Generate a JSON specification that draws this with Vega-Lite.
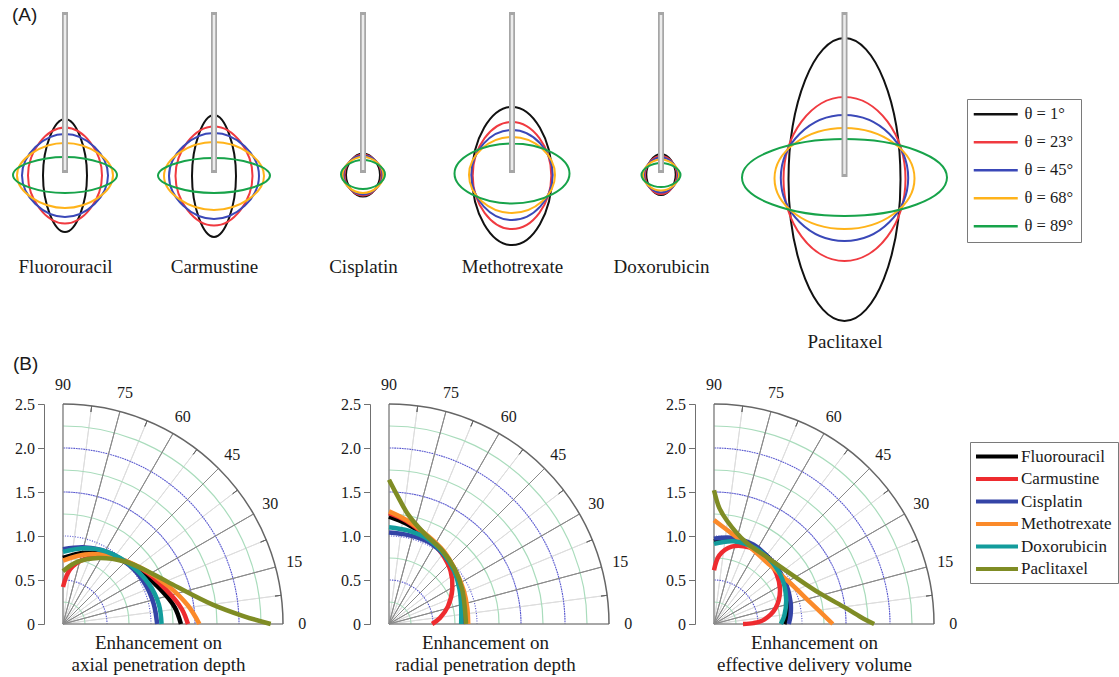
{
"$schema": "https://vega.github.io/schema/vega-lite/v6.json",
"background": "white",
"padding": 5,
"spacing": 3,
"resolve": {"scale": {"color": "independent"}},
"config": {
  "view": {"stroke": null},
  "font": "Liberation Serif",
  "axis": {"titleFont": "Liberation Serif", "titleFontWeight": "normal", "titleFontSize": 19, "titleColor": "#1a1a1a", "labelFont": "Liberation Serif", "labelFontSize": 16, "labelColor": "#1a1a1a"},
  "legend": {"labelFont": "Liberation Serif", "labelFontSize": 17, "labelColor": "#1a1a1a"},
  "title": {"font": "Liberation Sans", "fontSize": 19, "fontWeight": "normal", "color": "#1a1a1a"}
},
"datasets": {
  "needleA": [{"y0": 0.3, "y1": 15.8}],
  "needleP": [{"y0": 0.3, "y1": 16.2}],
  "ellFlu": [
    {"theta": "θ = 1°", "i": 0, "x": 2.2, "y": -0.25}, {"theta": "θ = 1°", "i": 1, "x": 0, "y": 5.4}, {"theta": "θ = 1°", "i": 2, "x": -2.2, "y": -0.25}, {"theta": "θ = 1°", "i": 3, "x": 0, "y": -5.9},
    {"theta": "θ = 23°", "i": 0, "x": 3.7, "y": -0.25}, {"theta": "θ = 23°", "i": 1, "x": 0, "y": 4.55}, {"theta": "θ = 23°", "i": 2, "x": -3.7, "y": -0.25}, {"theta": "θ = 23°", "i": 3, "x": 0, "y": -5.05},
    {"theta": "θ = 45°", "i": 0, "x": 4.3, "y": -0.25}, {"theta": "θ = 45°", "i": 1, "x": 0, "y": 3.9}, {"theta": "θ = 45°", "i": 2, "x": -4.3, "y": -0.25}, {"theta": "θ = 45°", "i": 3, "x": 0, "y": -4.4},
    {"theta": "θ = 68°", "i": 0, "x": 4.8, "y": -0.25}, {"theta": "θ = 68°", "i": 1, "x": 0, "y": 3.0}, {"theta": "θ = 68°", "i": 2, "x": -4.8, "y": -0.25}, {"theta": "θ = 68°", "i": 3, "x": 0, "y": -3.5},
    {"theta": "θ = 89°", "i": 0, "x": 5.2, "y": -0.2}, {"theta": "θ = 89°", "i": 1, "x": 0, "y": 1.6}, {"theta": "θ = 89°", "i": 2, "x": -5.2, "y": -0.2}, {"theta": "θ = 89°", "i": 3, "x": 0, "y": -2.0}
  ],
  "ellCar": [
    {"theta": "θ = 1°", "i": 0, "x": 2.2, "y": -0.3}, {"theta": "θ = 1°", "i": 1, "x": 0, "y": 5.8}, {"theta": "θ = 1°", "i": 2, "x": -2.2, "y": -0.3}, {"theta": "θ = 1°", "i": 3, "x": 0, "y": -6.4},
    {"theta": "θ = 23°", "i": 0, "x": 3.85, "y": -0.3}, {"theta": "θ = 23°", "i": 1, "x": 0, "y": 4.65}, {"theta": "θ = 23°", "i": 2, "x": -3.85, "y": -0.3}, {"theta": "θ = 23°", "i": 3, "x": 0, "y": -5.25},
    {"theta": "θ = 45°", "i": 0, "x": 4.5, "y": -0.3}, {"theta": "θ = 45°", "i": 1, "x": 0, "y": 4.0}, {"theta": "θ = 45°", "i": 2, "x": -4.5, "y": -0.3}, {"theta": "θ = 45°", "i": 3, "x": 0, "y": -4.6},
    {"theta": "θ = 68°", "i": 0, "x": 5.0, "y": -0.3}, {"theta": "θ = 68°", "i": 1, "x": 0, "y": 3.1}, {"theta": "θ = 68°", "i": 2, "x": -5.0, "y": -0.3}, {"theta": "θ = 68°", "i": 3, "x": 0, "y": -3.7},
    {"theta": "θ = 89°", "i": 0, "x": 5.6, "y": -0.25}, {"theta": "θ = 89°", "i": 1, "x": 0, "y": 1.5}, {"theta": "θ = 89°", "i": 2, "x": -5.6, "y": -0.25}, {"theta": "θ = 89°", "i": 3, "x": 0, "y": -2.0}
  ],
  "ellCis": [
    {"theta": "θ = 1°", "i": 0, "x": 1.7, "y": -0.2}, {"theta": "θ = 1°", "i": 1, "x": 0, "y": 1.95}, {"theta": "θ = 1°", "i": 2, "x": -1.7, "y": -0.2}, {"theta": "θ = 1°", "i": 3, "x": 0, "y": -2.35},
    {"theta": "θ = 23°", "i": 0, "x": 1.85, "y": -0.2}, {"theta": "θ = 23°", "i": 1, "x": 0, "y": 1.85}, {"theta": "θ = 23°", "i": 2, "x": -1.85, "y": -0.2}, {"theta": "θ = 23°", "i": 3, "x": 0, "y": -2.25},
    {"theta": "θ = 45°", "i": 0, "x": 1.95, "y": -0.2}, {"theta": "θ = 45°", "i": 1, "x": 0, "y": 1.75}, {"theta": "θ = 45°", "i": 2, "x": -1.95, "y": -0.2}, {"theta": "θ = 45°", "i": 3, "x": 0, "y": -2.15},
    {"theta": "θ = 68°", "i": 0, "x": 2.05, "y": -0.2}, {"theta": "θ = 68°", "i": 1, "x": 0, "y": 1.6}, {"theta": "θ = 68°", "i": 2, "x": -2.05, "y": -0.2}, {"theta": "θ = 68°", "i": 3, "x": 0, "y": -2.0},
    {"theta": "θ = 89°", "i": 0, "x": 2.2, "y": -0.15}, {"theta": "θ = 89°", "i": 1, "x": 0, "y": 1.3}, {"theta": "θ = 89°", "i": 2, "x": -2.2, "y": -0.15}, {"theta": "θ = 89°", "i": 3, "x": 0, "y": -1.6}
  ],
  "ellMet": [
    {"theta": "θ = 1°", "i": 0, "x": 4.0, "y": -0.3}, {"theta": "θ = 1°", "i": 1, "x": 0, "y": 6.6}, {"theta": "θ = 1°", "i": 2, "x": -4.0, "y": -0.3}, {"theta": "θ = 1°", "i": 3, "x": 0, "y": -7.2},
    {"theta": "θ = 23°", "i": 0, "x": 3.93, "y": -0.25}, {"theta": "θ = 23°", "i": 1, "x": 0, "y": 5.1}, {"theta": "θ = 23°", "i": 2, "x": -3.93, "y": -0.25}, {"theta": "θ = 23°", "i": 3, "x": 0, "y": -5.6},
    {"theta": "θ = 45°", "i": 0, "x": 4.07, "y": -0.2}, {"theta": "θ = 45°", "i": 1, "x": 0, "y": 4.3}, {"theta": "θ = 45°", "i": 2, "x": -4.07, "y": -0.2}, {"theta": "θ = 45°", "i": 3, "x": 0, "y": -4.7},
    {"theta": "θ = 68°", "i": 0, "x": 4.3, "y": -0.2}, {"theta": "θ = 68°", "i": 1, "x": 0, "y": 3.6}, {"theta": "θ = 68°", "i": 2, "x": -4.3, "y": -0.2}, {"theta": "θ = 68°", "i": 3, "x": 0, "y": -4.0},
    {"theta": "θ = 89°", "i": 0, "x": 5.75, "y": -0.05}, {"theta": "θ = 89°", "i": 1, "x": 0, "y": 2.95}, {"theta": "θ = 89°", "i": 2, "x": -5.75, "y": -0.05}, {"theta": "θ = 89°", "i": 3, "x": 0, "y": -3.05}
  ],
  "ellDox": [
    {"theta": "θ = 1°", "i": 0, "x": 1.47, "y": -0.15}, {"theta": "θ = 1°", "i": 1, "x": 0, "y": 1.9}, {"theta": "θ = 1°", "i": 2, "x": -1.47, "y": -0.15}, {"theta": "θ = 1°", "i": 3, "x": 0, "y": -2.2},
    {"theta": "θ = 23°", "i": 0, "x": 1.6, "y": -0.2}, {"theta": "θ = 23°", "i": 1, "x": 0, "y": 1.7}, {"theta": "θ = 23°", "i": 2, "x": -1.6, "y": -0.2}, {"theta": "θ = 23°", "i": 3, "x": 0, "y": -2.1},
    {"theta": "θ = 45°", "i": 0, "x": 1.7, "y": -0.2}, {"theta": "θ = 45°", "i": 1, "x": 0, "y": 1.55}, {"theta": "θ = 45°", "i": 2, "x": -1.7, "y": -0.2}, {"theta": "θ = 45°", "i": 3, "x": 0, "y": -1.95},
    {"theta": "θ = 68°", "i": 0, "x": 1.8, "y": -0.2}, {"theta": "θ = 68°", "i": 1, "x": 0, "y": 1.35}, {"theta": "θ = 68°", "i": 2, "x": -1.8, "y": -0.2}, {"theta": "θ = 68°", "i": 3, "x": 0, "y": -1.75},
    {"theta": "θ = 89°", "i": 0, "x": 1.95, "y": -0.2}, {"theta": "θ = 89°", "i": 1, "x": 0, "y": 1.0}, {"theta": "θ = 89°", "i": 2, "x": -1.95, "y": -0.2}, {"theta": "θ = 89°", "i": 3, "x": 0, "y": -1.4}
  ],
  "ellPac": [
    {"theta": "θ = 1°", "i": 0, "x": 5.6, "y": -0.25}, {"theta": "θ = 1°", "i": 1, "x": 0, "y": 13.9}, {"theta": "θ = 1°", "i": 2, "x": -5.6, "y": -0.25}, {"theta": "θ = 1°", "i": 3, "x": 0, "y": -14.4},
    {"theta": "θ = 23°", "i": 0, "x": 6.1, "y": -0.2}, {"theta": "θ = 23°", "i": 1, "x": 0, "y": 8.0}, {"theta": "θ = 23°", "i": 2, "x": -6.1, "y": -0.2}, {"theta": "θ = 23°", "i": 3, "x": 0, "y": -8.4},
    {"theta": "θ = 45°", "i": 0, "x": 6.37, "y": -0.1}, {"theta": "θ = 45°", "i": 1, "x": 0, "y": 6.2}, {"theta": "θ = 45°", "i": 2, "x": -6.37, "y": -0.1}, {"theta": "θ = 45°", "i": 3, "x": 0, "y": -6.4},
    {"theta": "θ = 68°", "i": 0, "x": 7.0, "y": -0.15}, {"theta": "θ = 68°", "i": 1, "x": 0, "y": 4.9}, {"theta": "θ = 68°", "i": 2, "x": -7.0, "y": -0.15}, {"theta": "θ = 68°", "i": 3, "x": 0, "y": -5.2},
    {"theta": "θ = 89°", "i": 0, "x": 10.25, "y": -0.05}, {"theta": "θ = 89°", "i": 1, "x": 0, "y": 3.8}, {"theta": "θ = 89°", "i": 2, "x": -10.25, "y": -0.05}, {"theta": "θ = 89°", "i": 3, "x": 0, "y": -3.9}
  ],
  "ringsMinor": [{"r": 0.25}, {"r": 0.75}, {"r": 1.25}, {"r": 1.75}, {"r": 2.25}],
  "ringsMajor": [{"r": 0.5}, {"r": 1.0}, {"r": 1.5}, {"r": 2.0}],
  "ringOuter": [{"r": 2.5}],
  "spokesMajor": [{"a": 0}, {"a": 15}, {"a": 30}, {"a": 45}, {"a": 60}, {"a": 75}, {"a": 90}],
  "spokesMinor": [{"a": 7.5}, {"a": 22.5}, {"a": 37.5}, {"a": 52.5}, {"a": 67.5}, {"a": 82.5}],
  "angles": [{"a": 0, "label": "0"}, {"a": 15, "label": "15"}, {"a": 30, "label": "30"}, {"a": 45, "label": "45"}, {"a": 60, "label": "60"}, {"a": 75, "label": "75"}, {"a": 90, "label": "90"}],
  "axial": [
    {"drug": "Fluorouracil", "i": 0, "x": 0, "y": 0.75}, {"drug": "Fluorouracil", "i": 1, "x": 0.25, "y": 0.81}, {"drug": "Fluorouracil", "i": 2, "x": 0.55, "y": 0.77}, {"drug": "Fluorouracil", "i": 3, "x": 0.85, "y": 0.62}, {"drug": "Fluorouracil", "i": 4, "x": 1.1, "y": 0.4}, {"drug": "Fluorouracil", "i": 5, "x": 1.27, "y": 0.19}, {"drug": "Fluorouracil", "i": 6, "x": 1.34, "y": 0},
    {"drug": "Carmustine", "i": 0, "x": 0, "y": 0.42}, {"drug": "Carmustine", "i": 1, "x": 0.08, "y": 0.62}, {"drug": "Carmustine", "i": 2, "x": 0.25, "y": 0.74}, {"drug": "Carmustine", "i": 3, "x": 0.55, "y": 0.76}, {"drug": "Carmustine", "i": 4, "x": 0.9, "y": 0.62}, {"drug": "Carmustine", "i": 5, "x": 1.17, "y": 0.39}, {"drug": "Carmustine", "i": 6, "x": 1.35, "y": 0.17}, {"drug": "Carmustine", "i": 7, "x": 1.42, "y": 0},
    {"drug": "Cisplatin", "i": 0, "x": 0, "y": 0.85}, {"drug": "Cisplatin", "i": 1, "x": 0.25, "y": 0.87}, {"drug": "Cisplatin", "i": 2, "x": 0.5, "y": 0.82}, {"drug": "Cisplatin", "i": 3, "x": 0.75, "y": 0.67}, {"drug": "Cisplatin", "i": 4, "x": 0.93, "y": 0.46}, {"drug": "Cisplatin", "i": 5, "x": 1.03, "y": 0.23}, {"drug": "Cisplatin", "i": 6, "x": 1.07, "y": 0},
    {"drug": "Methotrexate", "i": 0, "x": 0, "y": 0.72}, {"drug": "Methotrexate", "i": 1, "x": 0.25, "y": 0.79}, {"drug": "Methotrexate", "i": 2, "x": 0.55, "y": 0.77}, {"drug": "Methotrexate", "i": 3, "x": 0.9, "y": 0.63}, {"drug": "Methotrexate", "i": 4, "x": 1.2, "y": 0.43}, {"drug": "Methotrexate", "i": 5, "x": 1.42, "y": 0.21}, {"drug": "Methotrexate", "i": 6, "x": 1.55, "y": 0},
    {"drug": "Doxorubicin", "i": 0, "x": 0, "y": 0.82}, {"drug": "Doxorubicin", "i": 1, "x": 0.25, "y": 0.86}, {"drug": "Doxorubicin", "i": 2, "x": 0.5, "y": 0.82}, {"drug": "Doxorubicin", "i": 3, "x": 0.78, "y": 0.66}, {"drug": "Doxorubicin", "i": 4, "x": 0.98, "y": 0.45}, {"drug": "Doxorubicin", "i": 5, "x": 1.09, "y": 0.22}, {"drug": "Doxorubicin", "i": 6, "x": 1.12, "y": 0},
    {"drug": "Paclitaxel", "i": 0, "x": 0, "y": 0.6}, {"drug": "Paclitaxel", "i": 1, "x": 0.15, "y": 0.7}, {"drug": "Paclitaxel", "i": 2, "x": 0.4, "y": 0.75}, {"drug": "Paclitaxel", "i": 3, "x": 0.7, "y": 0.71}, {"drug": "Paclitaxel", "i": 4, "x": 1.0, "y": 0.58}, {"drug": "Paclitaxel", "i": 5, "x": 1.3, "y": 0.42}, {"drug": "Paclitaxel", "i": 6, "x": 1.7, "y": 0.22}, {"drug": "Paclitaxel", "i": 7, "x": 2.05, "y": 0.09}, {"drug": "Paclitaxel", "i": 8, "x": 2.36, "y": 0}
  ],
  "radial": [
    {"drug": "Fluorouracil", "i": 0, "x": 0, "y": 1.22}, {"drug": "Fluorouracil", "i": 1, "x": 0.2, "y": 1.14}, {"drug": "Fluorouracil", "i": 2, "x": 0.42, "y": 1.0}, {"drug": "Fluorouracil", "i": 3, "x": 0.62, "y": 0.82}, {"drug": "Fluorouracil", "i": 4, "x": 0.75, "y": 0.6}, {"drug": "Fluorouracil", "i": 5, "x": 0.83, "y": 0.38}, {"drug": "Fluorouracil", "i": 6, "x": 0.87, "y": 0.18}, {"drug": "Fluorouracil", "i": 7, "x": 0.88, "y": 0},
    {"drug": "Carmustine", "i": 0, "x": 0, "y": 1.26}, {"drug": "Carmustine", "i": 1, "x": 0.2, "y": 1.17}, {"drug": "Carmustine", "i": 2, "x": 0.42, "y": 1.0}, {"drug": "Carmustine", "i": 3, "x": 0.6, "y": 0.8}, {"drug": "Carmustine", "i": 4, "x": 0.7, "y": 0.6}, {"drug": "Carmustine", "i": 5, "x": 0.72, "y": 0.4}, {"drug": "Carmustine", "i": 6, "x": 0.67, "y": 0.2}, {"drug": "Carmustine", "i": 7, "x": 0.58, "y": 0.07}, {"drug": "Carmustine", "i": 8, "x": 0.49, "y": 0},
    {"drug": "Cisplatin", "i": 0, "x": 0, "y": 1.04}, {"drug": "Cisplatin", "i": 1, "x": 0.22, "y": 1.01}, {"drug": "Cisplatin", "i": 2, "x": 0.45, "y": 0.93}, {"drug": "Cisplatin", "i": 3, "x": 0.62, "y": 0.79}, {"drug": "Cisplatin", "i": 4, "x": 0.75, "y": 0.6}, {"drug": "Cisplatin", "i": 5, "x": 0.82, "y": 0.4}, {"drug": "Cisplatin", "i": 6, "x": 0.845, "y": 0.2}, {"drug": "Cisplatin", "i": 7, "x": 0.85, "y": 0},
    {"drug": "Methotrexate", "i": 0, "x": 0, "y": 1.28}, {"drug": "Methotrexate", "i": 1, "x": 0.2, "y": 1.18}, {"drug": "Methotrexate", "i": 2, "x": 0.42, "y": 1.02}, {"drug": "Methotrexate", "i": 3, "x": 0.62, "y": 0.83}, {"drug": "Methotrexate", "i": 4, "x": 0.76, "y": 0.6}, {"drug": "Methotrexate", "i": 5, "x": 0.85, "y": 0.38}, {"drug": "Methotrexate", "i": 6, "x": 0.89, "y": 0.18}, {"drug": "Methotrexate", "i": 7, "x": 0.9, "y": 0},
    {"drug": "Doxorubicin", "i": 0, "x": 0, "y": 1.1}, {"drug": "Doxorubicin", "i": 1, "x": 0.22, "y": 1.06}, {"drug": "Doxorubicin", "i": 2, "x": 0.45, "y": 0.96}, {"drug": "Doxorubicin", "i": 3, "x": 0.62, "y": 0.8}, {"drug": "Doxorubicin", "i": 4, "x": 0.74, "y": 0.6}, {"drug": "Doxorubicin", "i": 5, "x": 0.8, "y": 0.4}, {"drug": "Doxorubicin", "i": 6, "x": 0.82, "y": 0.2}, {"drug": "Doxorubicin", "i": 7, "x": 0.82, "y": 0},
    {"drug": "Paclitaxel", "i": 0, "x": 0, "y": 1.64}, {"drug": "Paclitaxel", "i": 1, "x": 0.1, "y": 1.45}, {"drug": "Paclitaxel", "i": 2, "x": 0.22, "y": 1.24}, {"drug": "Paclitaxel", "i": 3, "x": 0.4, "y": 1.03}, {"drug": "Paclitaxel", "i": 4, "x": 0.6, "y": 0.84}, {"drug": "Paclitaxel", "i": 5, "x": 0.75, "y": 0.62}, {"drug": "Paclitaxel", "i": 6, "x": 0.83, "y": 0.4}, {"drug": "Paclitaxel", "i": 7, "x": 0.86, "y": 0.2}, {"drug": "Paclitaxel", "i": 8, "x": 0.875, "y": 0}
  ],
  "volume": [
    {"drug": "Fluorouracil", "i": 0, "x": 0, "y": 0.94}, {"drug": "Fluorouracil", "i": 1, "x": 0.21, "y": 0.96}, {"drug": "Fluorouracil", "i": 2, "x": 0.46, "y": 0.88}, {"drug": "Fluorouracil", "i": 3, "x": 0.66, "y": 0.71}, {"drug": "Fluorouracil", "i": 4, "x": 0.79, "y": 0.5}, {"drug": "Fluorouracil", "i": 5, "x": 0.84, "y": 0.27}, {"drug": "Fluorouracil", "i": 6, "x": 0.83, "y": 0.1}, {"drug": "Fluorouracil", "i": 7, "x": 0.8, "y": 0},
    {"drug": "Carmustine", "i": 0, "x": 0, "y": 0.61}, {"drug": "Carmustine", "i": 1, "x": 0.06, "y": 0.78}, {"drug": "Carmustine", "i": 2, "x": 0.2, "y": 0.88}, {"drug": "Carmustine", "i": 3, "x": 0.4, "y": 0.87}, {"drug": "Carmustine", "i": 4, "x": 0.58, "y": 0.76}, {"drug": "Carmustine", "i": 5, "x": 0.71, "y": 0.57}, {"drug": "Carmustine", "i": 6, "x": 0.75, "y": 0.38}, {"drug": "Carmustine", "i": 7, "x": 0.7, "y": 0.18}, {"drug": "Carmustine", "i": 8, "x": 0.57, "y": 0.05}, {"drug": "Carmustine", "i": 9, "x": 0.45, "y": 0.01}, {"drug": "Carmustine", "i": 10, "x": 0.33, "y": 0},
    {"drug": "Cisplatin", "i": 0, "x": 0, "y": 0.97}, {"drug": "Cisplatin", "i": 1, "x": 0.2, "y": 0.98}, {"drug": "Cisplatin", "i": 2, "x": 0.45, "y": 0.9}, {"drug": "Cisplatin", "i": 3, "x": 0.65, "y": 0.72}, {"drug": "Cisplatin", "i": 4, "x": 0.8, "y": 0.5}, {"drug": "Cisplatin", "i": 5, "x": 0.87, "y": 0.25}, {"drug": "Cisplatin", "i": 6, "x": 0.87, "y": 0.1}, {"drug": "Cisplatin", "i": 7, "x": 0.85, "y": 0},
    {"drug": "Methotrexate", "i": 0, "x": 0, "y": 1.18}, {"drug": "Methotrexate", "i": 1, "x": 0.2, "y": 1.03}, {"drug": "Methotrexate", "i": 2, "x": 0.4, "y": 0.88}, {"drug": "Methotrexate", "i": 3, "x": 0.6, "y": 0.7}, {"drug": "Methotrexate", "i": 4, "x": 0.85, "y": 0.48}, {"drug": "Methotrexate", "i": 5, "x": 1.1, "y": 0.24}, {"drug": "Methotrexate", "i": 6, "x": 1.35, "y": 0},
    {"drug": "Doxorubicin", "i": 0, "x": 0, "y": 0.91}, {"drug": "Doxorubicin", "i": 1, "x": 0.22, "y": 0.94}, {"drug": "Doxorubicin", "i": 2, "x": 0.47, "y": 0.86}, {"drug": "Doxorubicin", "i": 3, "x": 0.66, "y": 0.7}, {"drug": "Doxorubicin", "i": 4, "x": 0.78, "y": 0.5}, {"drug": "Doxorubicin", "i": 5, "x": 0.82, "y": 0.28}, {"drug": "Doxorubicin", "i": 6, "x": 0.8, "y": 0.1}, {"drug": "Doxorubicin", "i": 7, "x": 0.76, "y": 0},
    {"drug": "Paclitaxel", "i": 0, "x": 0, "y": 1.52}, {"drug": "Paclitaxel", "i": 1, "x": 0.06, "y": 1.32}, {"drug": "Paclitaxel", "i": 2, "x": 0.15, "y": 1.17}, {"drug": "Paclitaxel", "i": 3, "x": 0.35, "y": 0.94}, {"drug": "Paclitaxel", "i": 4, "x": 0.6, "y": 0.76}, {"drug": "Paclitaxel", "i": 5, "x": 0.9, "y": 0.55}, {"drug": "Paclitaxel", "i": 6, "x": 1.2, "y": 0.35}, {"drug": "Paclitaxel", "i": 7, "x": 1.5, "y": 0.18}, {"drug": "Paclitaxel", "i": 8, "x": 1.7, "y": 0.06}, {"drug": "Paclitaxel", "i": 9, "x": 1.82, "y": 0}
  ]
},
"vconcat": [
 {
  "hconcat": [
  {
    "width": 120, "height": 245,
    "title": {"text": "(A)", "anchor": "start", "frame": "group", "baseline": "top", "offset": -20, "dx": 7},
    "layer": [
      {"data": {"name": "ellFlu"}, "mark": {"type": "line", "interpolate": "cardinal-closed", "tension": -0.5, "strokeWidth": 2},
       "encoding": {
         "x": {"field": "x", "type": "quantitative", "scale": {"domain": [-6, 6], "nice": false, "zero": false}, "axis": {"title": "Fluorouracil", "domain": false, "ticks": false, "labels": false, "grid": false, "titlePadding": 7}},
         "y": {"field": "y", "type": "quantitative", "scale": {"domain": [-7.7, 16.8], "nice": false, "zero": false}, "axis": null},
         "color": {"field": "theta", "type": "nominal", "scale": {"domain": ["θ = 1°", "θ = 23°", "θ = 45°", "θ = 68°", "θ = 89°"], "range": ["#111111", "#f03a40", "#3a48b8", "#ffb31a", "#17a34a"]}, "legend": null},
         "order": {"field": "i", "type": "quantitative"}}},
      {"data": {"name": "needleA"}, "mark": {"type": "rule", "stroke": "#a6a6a6", "strokeWidth": 6, "strokeCap": "square"},
       "encoding": {"x": {"datum": 0, "type": "quantitative"}, "y": {"field": "y0", "type": "quantitative"}, "y2": {"field": "y1"}}},
      {"data": {"name": "needleA"}, "mark": {"type": "rule", "stroke": "#ececec", "strokeWidth": 2.5},
       "encoding": {"x": {"datum": 0, "type": "quantitative"}, "y": {"field": "y0", "type": "quantitative"}, "y2": {"field": "y1"}}}
    ]
  },
  {
    "width": 120, "height": 245,
    "layer": [
      {"data": {"name": "ellCar"}, "mark": {"type": "line", "interpolate": "cardinal-closed", "tension": -0.5, "strokeWidth": 2},
       "encoding": {
         "x": {"field": "x", "type": "quantitative", "scale": {"domain": [-6, 6], "nice": false, "zero": false}, "axis": {"title": "Carmustine", "domain": false, "ticks": false, "labels": false, "grid": false, "titlePadding": 7}},
         "y": {"field": "y", "type": "quantitative", "scale": {"domain": [-7.7, 16.8], "nice": false, "zero": false}, "axis": null},
         "color": {"field": "theta", "type": "nominal", "scale": {"domain": ["θ = 1°", "θ = 23°", "θ = 45°", "θ = 68°", "θ = 89°"], "range": ["#111111", "#f03a40", "#3a48b8", "#ffb31a", "#17a34a"]}, "legend": null},
         "order": {"field": "i", "type": "quantitative"}}},
      {"data": {"name": "needleA"}, "mark": {"type": "rule", "stroke": "#a6a6a6", "strokeWidth": 6, "strokeCap": "square"},
       "encoding": {"x": {"datum": 0, "type": "quantitative"}, "y": {"field": "y0", "type": "quantitative"}, "y2": {"field": "y1"}}},
      {"data": {"name": "needleA"}, "mark": {"type": "rule", "stroke": "#ececec", "strokeWidth": 2.5},
       "encoding": {"x": {"datum": 0, "type": "quantitative"}, "y": {"field": "y0", "type": "quantitative"}, "y2": {"field": "y1"}}}
    ]
  },
  {
    "width": 120, "height": 245,
    "layer": [
      {"data": {"name": "ellCis"}, "mark": {"type": "line", "interpolate": "cardinal-closed", "tension": -0.5, "strokeWidth": 2},
       "encoding": {
         "x": {"field": "x", "type": "quantitative", "scale": {"domain": [-6, 6], "nice": false, "zero": false}, "axis": {"title": "Cisplatin", "domain": false, "ticks": false, "labels": false, "grid": false, "titlePadding": 7}},
         "y": {"field": "y", "type": "quantitative", "scale": {"domain": [-7.7, 16.8], "nice": false, "zero": false}, "axis": null},
         "color": {"field": "theta", "type": "nominal", "scale": {"domain": ["θ = 1°", "θ = 23°", "θ = 45°", "θ = 68°", "θ = 89°"], "range": ["#111111", "#f03a40", "#3a48b8", "#ffb31a", "#17a34a"]}, "legend": null},
         "order": {"field": "i", "type": "quantitative"}}},
      {"data": {"name": "needleA"}, "mark": {"type": "rule", "stroke": "#a6a6a6", "strokeWidth": 6, "strokeCap": "square"},
       "encoding": {"x": {"datum": 0, "type": "quantitative"}, "y": {"field": "y0", "type": "quantitative"}, "y2": {"field": "y1"}}},
      {"data": {"name": "needleA"}, "mark": {"type": "rule", "stroke": "#ececec", "strokeWidth": 2.5},
       "encoding": {"x": {"datum": 0, "type": "quantitative"}, "y": {"field": "y0", "type": "quantitative"}, "y2": {"field": "y1"}}}
    ]
  },
  {
    "width": 120, "height": 245,
    "layer": [
      {"data": {"name": "ellMet"}, "mark": {"type": "line", "interpolate": "cardinal-closed", "tension": -0.58, "strokeWidth": 2},
       "encoding": {
         "x": {"field": "x", "type": "quantitative", "scale": {"domain": [-6, 6], "nice": false, "zero": false}, "axis": {"title": "Methotrexate", "domain": false, "ticks": false, "labels": false, "grid": false, "titlePadding": 7}},
         "y": {"field": "y", "type": "quantitative", "scale": {"domain": [-7.7, 16.8], "nice": false, "zero": false}, "axis": null},
         "color": {"field": "theta", "type": "nominal", "scale": {"domain": ["θ = 1°", "θ = 23°", "θ = 45°", "θ = 68°", "θ = 89°"], "range": ["#111111", "#f03a40", "#3a48b8", "#ffb31a", "#17a34a"]}, "legend": null},
         "order": {"field": "i", "type": "quantitative"}}},
      {"data": {"name": "needleA"}, "mark": {"type": "rule", "stroke": "#a6a6a6", "strokeWidth": 6, "strokeCap": "square"},
       "encoding": {"x": {"datum": 0, "type": "quantitative"}, "y": {"field": "y0", "type": "quantitative"}, "y2": {"field": "y1"}}},
      {"data": {"name": "needleA"}, "mark": {"type": "rule", "stroke": "#ececec", "strokeWidth": 2.5},
       "encoding": {"x": {"datum": 0, "type": "quantitative"}, "y": {"field": "y0", "type": "quantitative"}, "y2": {"field": "y1"}}}
    ]
  },
  {
    "width": 120, "height": 245,
    "layer": [
      {"data": {"name": "ellDox"}, "mark": {"type": "line", "interpolate": "cardinal-closed", "tension": -0.5, "strokeWidth": 2},
       "encoding": {
         "x": {"field": "x", "type": "quantitative", "scale": {"domain": [-6, 6], "nice": false, "zero": false}, "axis": {"title": "Doxorubicin", "domain": false, "ticks": false, "labels": false, "grid": false, "titlePadding": 7}},
         "y": {"field": "y", "type": "quantitative", "scale": {"domain": [-7.7, 16.8], "nice": false, "zero": false}, "axis": null},
         "color": {"field": "theta", "type": "nominal", "scale": {"domain": ["θ = 1°", "θ = 23°", "θ = 45°", "θ = 68°", "θ = 89°"], "range": ["#111111", "#f03a40", "#3a48b8", "#ffb31a", "#17a34a"]}, "legend": null},
         "order": {"field": "i", "type": "quantitative"}}},
      {"data": {"name": "needleA"}, "mark": {"type": "rule", "stroke": "#a6a6a6", "strokeWidth": 6, "strokeCap": "square"},
       "encoding": {"x": {"datum": 0, "type": "quantitative"}, "y": {"field": "y0", "type": "quantitative"}, "y2": {"field": "y1"}}},
      {"data": {"name": "needleA"}, "mark": {"type": "rule", "stroke": "#ececec", "strokeWidth": 2.5},
       "encoding": {"x": {"datum": 0, "type": "quantitative"}, "y": {"field": "y0", "type": "quantitative"}, "y2": {"field": "y1"}}}
    ]
  },
  {
    "width": 189, "height": 320,
    "layer": [
      {"data": {"name": "ellPac"}, "mark": {"type": "line", "interpolate": "cardinal-closed", "tension": -0.62, "strokeWidth": 2},
       "encoding": {
         "x": {"field": "x", "type": "quantitative", "scale": {"domain": [-9.45, 9.45], "nice": false, "zero": false}, "axis": {"title": "Paclitaxel", "domain": false, "ticks": false, "labels": false, "grid": false, "titlePadding": 7}},
         "y": {"field": "y", "type": "quantitative", "scale": {"domain": [-14.8, 17.2], "nice": false, "zero": false}, "axis": null},
         "color": {"field": "theta", "type": "nominal", "scale": {"domain": ["θ = 1°", "θ = 23°", "θ = 45°", "θ = 68°", "θ = 89°"], "range": ["#111111", "#f03a40", "#3a48b8", "#ffb31a", "#17a34a"]},
           "legend": {"title": null, "orient": "none", "legendX": 217, "legendY": 94, "strokeColor": "#7a7a7a", "padding": 7, "symbolType": "M -1.545 0 L 6.455 0", "symbolSize": 121, "symbolStrokeWidth": 2.5, "labelOffset": 34, "rowPadding": 11, "labelFontSize": 16.5}},
         "order": {"field": "i", "type": "quantitative"}}},
      {"data": {"name": "needleP"}, "mark": {"type": "rule", "stroke": "#a6a6a6", "strokeWidth": 6, "strokeCap": "square"},
       "encoding": {"x": {"datum": 0, "type": "quantitative"}, "y": {"field": "y0", "type": "quantitative"}, "y2": {"field": "y1"}}},
      {"data": {"name": "needleP"}, "mark": {"type": "rule", "stroke": "#ececec", "strokeWidth": 2.5},
       "encoding": {"x": {"datum": 0, "type": "quantitative"}, "y": {"field": "y0", "type": "quantitative"}, "y2": {"field": "y1"}}}
    ]
  }
  ],
  "spacing": 29,
  "bounds": "flush",
  "resolve": {"scale": {"color": "independent"}}
 },
 {
  "hconcat": [
  {
    "width": 306, "height": 220,
    "title": {"text": "(B)", "anchor": "start", "frame": "group", "baseline": "bottom", "offset": -16, "dx": 8},
    "layer": [
      {"data": {"name": "spokesMinor"}, "mark": {"type": "arc", "filled": false, "fillOpacity": 0, "stroke": "#dddddd", "strokeWidth": 1},
       "encoding": {
         "x": {"datum": 0, "type": "quantitative", "scale": {"domain": [-0.65909, 2.81818], "nice": false, "zero": false}, "axis": {"title": ["Enhancement on", "axial penetration depth"], "domain": false, "ticks": false, "labels": false, "grid": false, "titlePadding": 9, "titleLineHeight": 22}},
         "y": {"datum": 0, "type": "quantitative", "scale": {"domain": [0, 2.5], "nice": false, "zero": false}, "axis": {"values": [0, 0.25, 0.5, 0.75, 1, 1.25, 1.5, 1.75, 2, 2.25, 2.5], "labelExpr": "datum.value == 0 ? '0' : (round(datum.value * 4) % 2 == 0 ? format(datum.value, '.1f') : '')", "tickSize": {"condition": {"test": "round(datum.value * 4) % 2 == 1", "value": 3.5}, "value": 6.5}, "offset": -39, "domainColor": "#707070", "tickColor": "#707070", "labelPadding": 3, "grid": false, "title": null, "labelOverlap": false}},
         "theta": {"field": "a", "type": "quantitative", "stack": null, "scale": {"domain": [0, 90], "range": [1.5708, 0]}},
         "theta2": {"field": "a"},
         "radius": {"datum": 2.5, "type": "quantitative", "scale": {"type": "linear", "domain": [0, 2.5], "range": [0, 220], "nice": false, "zero": false}},
         "radius2": {"datum": 0}}},
      {"data": {"name": "ringsMinor"}, "mark": {"type": "arc", "filled": false, "fillOpacity": 0, "stroke": "#a9dcbc", "strokeWidth": 1.2},
       "encoding": {"x": {"datum": 0, "type": "quantitative"}, "y": {"datum": 0, "type": "quantitative"}, "theta": {"datum": 0, "type": "quantitative"}, "theta2": {"datum": 90}, "radius": {"field": "r", "type": "quantitative"}, "radius2": {"field": "r"}}},
      {"data": {"name": "ringsMajor"}, "mark": {"type": "arc", "filled": false, "fillOpacity": 0, "stroke": "#5b5bd0", "strokeWidth": 1.1, "strokeDash": [1, 1.5]},
       "encoding": {"x": {"datum": 0, "type": "quantitative"}, "y": {"datum": 0, "type": "quantitative"}, "theta": {"datum": 0, "type": "quantitative"}, "theta2": {"datum": 90}, "radius": {"field": "r", "type": "quantitative"}, "radius2": {"field": "r"}}},
      {"data": {"name": "spokesMajor"}, "mark": {"type": "arc", "filled": false, "fillOpacity": 0, "stroke": "#8a8a8a", "strokeWidth": 1},
       "encoding": {"x": {"datum": 0, "type": "quantitative"}, "y": {"datum": 0, "type": "quantitative"}, "theta": {"field": "a", "type": "quantitative", "stack": null}, "theta2": {"field": "a"}, "radius": {"datum": 2.5, "type": "quantitative"}, "radius2": {"datum": 0}}},
      {"data": {"name": "ringOuter"}, "mark": {"type": "arc", "filled": false, "fillOpacity": 0, "stroke": "#666666", "strokeWidth": 1.5},
       "encoding": {"x": {"datum": 0, "type": "quantitative"}, "y": {"datum": 0, "type": "quantitative"}, "theta": {"datum": 0, "type": "quantitative"}, "theta2": {"datum": 90}, "radius": {"field": "r", "type": "quantitative"}, "radius2": {"field": "r"}}},
      {"data": {"name": "spokesMinor"}, "mark": {"type": "arc", "filled": false, "fillOpacity": 0, "stroke": "#666666", "strokeWidth": 1},
       "encoding": {"x": {"datum": 0, "type": "quantitative"}, "y": {"datum": 0, "type": "quantitative"}, "theta": {"field": "a", "type": "quantitative", "stack": null}, "theta2": {"field": "a"}, "radius": {"datum": 2.5, "type": "quantitative"}, "radius2": {"datum": 2.43}}},
      {"data": {"name": "axial"}, "mark": {"type": "line", "interpolate": "catmull-rom", "strokeWidth": 4.5},
       "encoding": {"x": {"field": "x", "type": "quantitative"}, "y": {"field": "y", "type": "quantitative"},
         "color": {"field": "drug", "type": "nominal", "scale": {"domain": ["Fluorouracil", "Carmustine", "Cisplatin", "Methotrexate", "Doxorubicin", "Paclitaxel"], "range": ["#000000", "#ee2b2f", "#3444a6", "#fb8a2a", "#139c9c", "#7f8c24"]}, "legend": null},
         "order": {"field": "i", "type": "quantitative"}}},
      {"data": {"name": "angles"}, "mark": {"type": "text", "font": "Liberation Serif", "fontSize": 16, "color": "#1a1a1a"},
       "encoding": {"x": {"datum": 0, "type": "quantitative"}, "y": {"datum": 0, "type": "quantitative"}, "theta": {"field": "a", "type": "quantitative", "stack": null}, "radius": {"datum": 2.72, "type": "quantitative"}, "text": {"field": "label"}}}
    ]
  },
  {
    "width": 290, "height": 220,
    "layer": [
      {"data": {"name": "spokesMinor"}, "mark": {"type": "arc", "filled": false, "fillOpacity": 0, "stroke": "#dddddd", "strokeWidth": 1},
       "encoding": {
         "x": {"datum": 0, "type": "quantitative", "scale": {"domain": [-0.55682, 2.73864], "nice": false, "zero": false}, "axis": {"title": ["Enhancement on", "radial penetration depth"], "domain": false, "ticks": false, "labels": false, "grid": false, "titlePadding": 9, "titleLineHeight": 22}},
         "y": {"datum": 0, "type": "quantitative", "scale": {"domain": [0, 2.5], "nice": false, "zero": false}, "axis": {"values": [0, 0.25, 0.5, 0.75, 1, 1.25, 1.5, 1.75, 2, 2.25, 2.5], "labelExpr": "datum.value == 0 ? '0' : (round(datum.value * 4) % 2 == 0 ? format(datum.value, '.1f') : '')", "tickSize": {"condition": {"test": "round(datum.value * 4) % 2 == 1", "value": 3.5}, "value": 6.5}, "offset": -30, "domainColor": "#707070", "tickColor": "#707070", "labelPadding": 3, "grid": false, "title": null, "labelOverlap": false}},
         "theta": {"field": "a", "type": "quantitative", "stack": null, "scale": {"domain": [0, 90], "range": [1.5708, 0]}},
         "theta2": {"field": "a"},
         "radius": {"datum": 2.5, "type": "quantitative", "scale": {"type": "linear", "domain": [0, 2.5], "range": [0, 220], "nice": false, "zero": false}},
         "radius2": {"datum": 0}}},
      {"data": {"name": "ringsMinor"}, "mark": {"type": "arc", "filled": false, "fillOpacity": 0, "stroke": "#a9dcbc", "strokeWidth": 1.2},
       "encoding": {"x": {"datum": 0, "type": "quantitative"}, "y": {"datum": 0, "type": "quantitative"}, "theta": {"datum": 0, "type": "quantitative"}, "theta2": {"datum": 90}, "radius": {"field": "r", "type": "quantitative"}, "radius2": {"field": "r"}}},
      {"data": {"name": "ringsMajor"}, "mark": {"type": "arc", "filled": false, "fillOpacity": 0, "stroke": "#5b5bd0", "strokeWidth": 1.1, "strokeDash": [1, 1.5]},
       "encoding": {"x": {"datum": 0, "type": "quantitative"}, "y": {"datum": 0, "type": "quantitative"}, "theta": {"datum": 0, "type": "quantitative"}, "theta2": {"datum": 90}, "radius": {"field": "r", "type": "quantitative"}, "radius2": {"field": "r"}}},
      {"data": {"name": "spokesMajor"}, "mark": {"type": "arc", "filled": false, "fillOpacity": 0, "stroke": "#8a8a8a", "strokeWidth": 1},
       "encoding": {"x": {"datum": 0, "type": "quantitative"}, "y": {"datum": 0, "type": "quantitative"}, "theta": {"field": "a", "type": "quantitative", "stack": null}, "theta2": {"field": "a"}, "radius": {"datum": 2.5, "type": "quantitative"}, "radius2": {"datum": 0}}},
      {"data": {"name": "ringOuter"}, "mark": {"type": "arc", "filled": false, "fillOpacity": 0, "stroke": "#666666", "strokeWidth": 1.5},
       "encoding": {"x": {"datum": 0, "type": "quantitative"}, "y": {"datum": 0, "type": "quantitative"}, "theta": {"datum": 0, "type": "quantitative"}, "theta2": {"datum": 90}, "radius": {"field": "r", "type": "quantitative"}, "radius2": {"field": "r"}}},
      {"data": {"name": "spokesMinor"}, "mark": {"type": "arc", "filled": false, "fillOpacity": 0, "stroke": "#666666", "strokeWidth": 1},
       "encoding": {"x": {"datum": 0, "type": "quantitative"}, "y": {"datum": 0, "type": "quantitative"}, "theta": {"field": "a", "type": "quantitative", "stack": null}, "theta2": {"field": "a"}, "radius": {"datum": 2.5, "type": "quantitative"}, "radius2": {"datum": 2.43}}},
      {"data": {"name": "radial"}, "mark": {"type": "line", "interpolate": "catmull-rom", "strokeWidth": 4.5},
       "encoding": {"x": {"field": "x", "type": "quantitative"}, "y": {"field": "y", "type": "quantitative"},
         "color": {"field": "drug", "type": "nominal", "scale": {"domain": ["Fluorouracil", "Carmustine", "Cisplatin", "Methotrexate", "Doxorubicin", "Paclitaxel"], "range": ["#000000", "#ee2b2f", "#3444a6", "#fb8a2a", "#139c9c", "#7f8c24"]}, "legend": null},
         "order": {"field": "i", "type": "quantitative"}}},
      {"data": {"name": "angles"}, "mark": {"type": "text", "font": "Liberation Serif", "fontSize": 16, "color": "#1a1a1a"},
       "encoding": {"x": {"datum": 0, "type": "quantitative"}, "y": {"datum": 0, "type": "quantitative"}, "theta": {"field": "a", "type": "quantitative", "stack": null}, "radius": {"datum": 2.72, "type": "quantitative"}, "text": {"field": "label"}}}
    ]
  },
  {
    "width": 310, "height": 220,
    "layer": [
      {"data": {"name": "spokesMinor"}, "mark": {"type": "arc", "filled": false, "fillOpacity": 0, "stroke": "#dddddd", "strokeWidth": 1},
       "encoding": {
         "x": {"datum": 0, "type": "quantitative", "scale": {"domain": [-0.625, 2.89773], "nice": false, "zero": false}, "axis": {"title": ["Enhancement on", "effective delivery volume"], "domain": false, "ticks": false, "labels": false, "grid": false, "titlePadding": 9, "titleLineHeight": 22}},
         "y": {"datum": 0, "type": "quantitative", "scale": {"domain": [0, 2.5], "nice": false, "zero": false}, "axis": {"values": [0, 0.25, 0.5, 0.75, 1, 1.25, 1.5, 1.75, 2, 2.25, 2.5], "labelExpr": "datum.value == 0 ? '0' : (round(datum.value * 4) % 2 == 0 ? format(datum.value, '.1f') : '')", "tickSize": {"condition": {"test": "round(datum.value * 4) % 2 == 1", "value": 3.5}, "value": 6.5}, "offset": -36, "domainColor": "#707070", "tickColor": "#707070", "labelPadding": 3, "grid": false, "title": null, "labelOverlap": false}},
         "theta": {"field": "a", "type": "quantitative", "stack": null, "scale": {"domain": [0, 90], "range": [1.5708, 0]}},
         "theta2": {"field": "a"},
         "radius": {"datum": 2.5, "type": "quantitative", "scale": {"type": "linear", "domain": [0, 2.5], "range": [0, 220], "nice": false, "zero": false}},
         "radius2": {"datum": 0}}},
      {"data": {"name": "ringsMinor"}, "mark": {"type": "arc", "filled": false, "fillOpacity": 0, "stroke": "#a9dcbc", "strokeWidth": 1.2},
       "encoding": {"x": {"datum": 0, "type": "quantitative"}, "y": {"datum": 0, "type": "quantitative"}, "theta": {"datum": 0, "type": "quantitative"}, "theta2": {"datum": 90}, "radius": {"field": "r", "type": "quantitative"}, "radius2": {"field": "r"}}},
      {"data": {"name": "ringsMajor"}, "mark": {"type": "arc", "filled": false, "fillOpacity": 0, "stroke": "#5b5bd0", "strokeWidth": 1.1, "strokeDash": [1, 1.5]},
       "encoding": {"x": {"datum": 0, "type": "quantitative"}, "y": {"datum": 0, "type": "quantitative"}, "theta": {"datum": 0, "type": "quantitative"}, "theta2": {"datum": 90}, "radius": {"field": "r", "type": "quantitative"}, "radius2": {"field": "r"}}},
      {"data": {"name": "spokesMajor"}, "mark": {"type": "arc", "filled": false, "fillOpacity": 0, "stroke": "#8a8a8a", "strokeWidth": 1},
       "encoding": {"x": {"datum": 0, "type": "quantitative"}, "y": {"datum": 0, "type": "quantitative"}, "theta": {"field": "a", "type": "quantitative", "stack": null}, "theta2": {"field": "a"}, "radius": {"datum": 2.5, "type": "quantitative"}, "radius2": {"datum": 0}}},
      {"data": {"name": "ringOuter"}, "mark": {"type": "arc", "filled": false, "fillOpacity": 0, "stroke": "#666666", "strokeWidth": 1.5},
       "encoding": {"x": {"datum": 0, "type": "quantitative"}, "y": {"datum": 0, "type": "quantitative"}, "theta": {"datum": 0, "type": "quantitative"}, "theta2": {"datum": 90}, "radius": {"field": "r", "type": "quantitative"}, "radius2": {"field": "r"}}},
      {"data": {"name": "spokesMinor"}, "mark": {"type": "arc", "filled": false, "fillOpacity": 0, "stroke": "#666666", "strokeWidth": 1},
       "encoding": {"x": {"datum": 0, "type": "quantitative"}, "y": {"datum": 0, "type": "quantitative"}, "theta": {"field": "a", "type": "quantitative", "stack": null}, "theta2": {"field": "a"}, "radius": {"datum": 2.5, "type": "quantitative"}, "radius2": {"datum": 2.43}}},
      {"data": {"name": "volume"}, "mark": {"type": "line", "interpolate": "catmull-rom", "strokeWidth": 4.5},
       "encoding": {"x": {"field": "x", "type": "quantitative"}, "y": {"field": "y", "type": "quantitative"},
         "color": {"field": "drug", "type": "nominal", "scale": {"domain": ["Fluorouracil", "Carmustine", "Cisplatin", "Methotrexate", "Doxorubicin", "Paclitaxel"], "range": ["#000000", "#ee2b2f", "#3444a6", "#fb8a2a", "#139c9c", "#7f8c24"]},
           "legend": {"title": null, "orient": "none", "legendX": 311, "legendY": 38, "strokeColor": "#7a7a7a", "padding": 6, "symbolType": "M -1.545 0 L 6.09 0", "symbolSize": 121, "symbolStrokeWidth": 4, "labelOffset": 28, "rowPadding": 4.5, "labelFontSize": 17}},
         "order": {"field": "i", "type": "quantitative"}}},
      {"data": {"name": "angles"}, "mark": {"type": "text", "font": "Liberation Serif", "fontSize": 16, "color": "#1a1a1a"},
       "encoding": {"x": {"datum": 0, "type": "quantitative"}, "y": {"datum": 0, "type": "quantitative"}, "theta": {"field": "a", "type": "quantitative", "stack": null}, "radius": {"datum": 2.72, "type": "quantitative"}, "text": {"field": "label"}}}
    ]
  }
  ],
  "spacing": 29,
  "bounds": "flush",
  "resolve": {"scale": {"color": "independent"}}
 }
]
}
